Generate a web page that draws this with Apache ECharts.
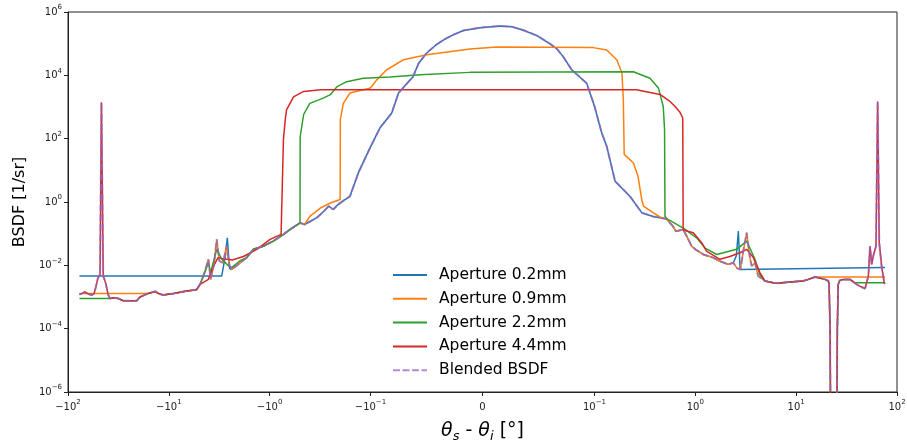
<!DOCTYPE html>
<html><head><meta charset="utf-8">
<script src="https://cdn.jsdelivr.net/npm/echarts@6/dist/echarts.min.js"></script>
<style>html,body{margin:0;padding:0;background:#fff}#c{width:907px;height:444px}</style>
</head><body><div id="c"></div>
<script>
// ---------- data (x in degrees, y = BSDF in 1/sr) ----------
const xTickValues = [-100, -10, -1, -0.1, 0, 0.1, 1, 10, 100];
const xTickBase = ['−10', '−10', '−10', '−10', '0', '10', '10', '10', '10'];
const xTickExp = ['2', '1', '0', '−1', '', '−1', '0', '1', '2'];
const yTickExponents = [-6, -4, -2, 0, 2, 4, 6];
const seriesNames = ['Aperture 0.2mm', 'Aperture 0.9mm', 'Aperture 2.2mm', 'Aperture 4.4mm', 'Blended BSDF'];

// measured far-left tail (shared)
const tailLeftX = [-77, -72, -68, -63, -58, -55, -52.7, -50.5, -48.1, -46.6, -44.7, -43.5, -42, -40, -38.4, -35, -31.7, -28.3, -24, -20.8, -19.3, -16, -13.7, -12.7, -11.4, -9.0, -6.65, -5.3];
const tailLeftY = [1.2e-3, 1.3e-3, 1.45e-3, 1.25e-3, 1.15e-3, 1.3e-3, 2.2e-3, 4e-3, 5e-3, 1.4e3, 4.5e-3, 3.6e-3, 2.5e-3, 1.2e-3, 9e-4, 9.5e-4, 9e-4, 7.6e-4, 7.6e-4, 7.6e-4, 1.0e-3, 1.3e-3, 1.5e-3, 1.3e-3, 1.15e-3, 1.3e-3, 1.55e-3, 1.7e-3];
// measured mid-left (oscillating) region
const midLeftX = [-4.9, -4.37, -4.05, -3.85, -3.56, -3.35, -3.15, -2.9, -2.68, -2.5, -2.38, -2.2, -1.97, -1.69, -1.45, -1.16, -0.92, -0.73, -0.63, -0.5, -0.45, -0.34, -0.29, -0.26, -0.234, -0.21, -0.185];
const midLeftY = [2.5e-3, 6.6e-3, 1.55e-2, 3.6e-3, 1.07e-2, 6.6e-2, 1.36e-2, 1.2e-2, 4e-2, 1e-2, 7.4e-3, 9e-3, 1.2e-2, 1.75e-2, 3.2e-2, 4e-2, 5.8e-2, 9.5e-2, 0.135, 0.22, 0.195, 0.32, 0.51, 0.74, 0.58, 0.83, 1.1];
// narrow-aperture core (0.2mm / blended)
const coreX = [-0.16, -0.132, -0.101, -0.0915, -0.081, -0.075, -0.062, -0.057, -0.05, -0.0415, -0.035, -0.0263, -0.017, -0.0022, 0.0156, 0.0263, 0.036, 0.0486, 0.06, 0.0665, 0.072, 0.0796, 0.093, 0.1, 0.118, 0.132, 0.16, 0.225, 0.294, 0.38];
const coreY = [1.5, 8.3, 51, 220, 650, 2750, 9100, 2.4e4, 5e4, 9.1e4, 1.3e5, 1.9e5, 2.6e5, 3.2e5, 3.6e5, 3.4e5, 2.7e5, 1.8e5, 1.0e5, 6.8e4, 3.9e4, 1.5e4, 5600, 1050, 150, 58, 4.5, 1.5, 0.46, 0.35];
// measured mid-right region
const midRightX = [0.52, 0.6, 0.64, 0.76, 0.92, 1.0, 1.2, 1.5, 1.73, 2.12, 2.38, 2.6, 2.8, 3.0, 3.23, 3.45, 3.62, 3.9, 4.2];
const midRightY = [0.29, 0.17, 0.12, 0.135, 0.04, 0.032, 0.022, 0.0175, 0.0137, 0.0107, 0.012, 8e-3, 7.4e-3, 0.03, 0.107, 0.02, 9.5e-3, 0.012, 4.6e-3];
// measured far-right tail (shared)
const tailRightX = [4.9, 5.9, 6.4, 8.7, 11.7, 13.2, 15.4, 19.3, 20.9, 21.2, 21.7, 22.1, 25.2, 25.6, 26.1, 27, 29.5, 34.2, 39.8, 44, 48.2, 52, 54, 56.1, 58.2, 61.9, 64.3, 66.7, 70.5, 74.8, 76];
const tailRightY = [3.2e-3, 2.8e-3, 2.7e-3, 3.0e-3, 3.2e-3, 3.6e-3, 4.3e-3, 3.6e-3, 3.2e-3, 2.5e-3, 1e-4, 1e-9, 1e-9, 1e-4, 2.5e-3, 3.3e-3, 3.6e-3, 3.6e-3, 2.5e-3, 2.1e-3, 1.85e-3, 4.6e-3, 0.04, 0.0107, 0.02, 0.04, 1.5e3, 0.05, 9e-3, 2.8e-3, 2.6e-3];

// aperture 0.2mm specific
const blueLeftX = [-77, -2.99, -2.75, -2.63, -2.5];
const blueLeftY = [4.6e-3, 4.6e-3, 2e-2, 7.4e-2, 8e-3];
const blueRightX = [2.55, 2.67, 2.78, 2.88, 76];
const blueRightY = [0.02, 0.12, 7.4e-3, 8.5e-3, 8.5e-3];
// aperture 0.9mm specific
const orangeLeftX = [-77, -15.5];
const orangeLeftY = [1.3e-3, 1.3e-3];
const orangeTopX = [-0.4, -0.31, -0.25, -0.2, -0.199, -0.186, -0.16, -0.127, -0.1, -0.0944, -0.0855, -0.0707, -0.0498, -0.0112, 0.0127, 0.0989, 0.132, 0.166, 0.187, 0.193, 0.197, 0.243, 0.27, 0.294, 0.306, 0.38, 0.45];
const orangeTopY = [0.35, 0.66, 0.93, 1.2, 400, 1300, 2750, 3300, 4000, 7200, 1.5e4, 3.1e4, 4.5e4, 6.8e4, 7.8e4, 7.5e4, 6.3e4, 3.1e4, 1.2e4, 1.7e3, 32, 17, 6.5, 1.2, 0.74, 0.46, 0.33];
const orangeRightX = [15.4, 76];
const orangeRightY = [4.3e-3, 4.3e-3];
// aperture 2.2mm specific
const greenLeftX = [-77, -38.4];
const greenLeftY = [8.9e-4, 8.9e-4];
const greenMidX = [-4.9, -4.5, -4.05, -3.85, -3.35, -3.0, -2.6, -2.38, -1.97];
const greenMidY = [2.5e-3, 5e-3, 1.2e-2, 6e-3, 3.2e-2, 1.6e-2, 1e-2, 8.5e-3, 1.4e-2];
const greenTopX = [-0.5, -0.498, -0.46, -0.4, -0.294, -0.25, -0.216, -0.172, -0.118, -0.0826, -0.0558, -0.0112, 0.243, 0.355, 0.43, 0.48, 0.495, 0.5];
const greenTopY = [0.22, 115, 580, 1300, 1900, 2450, 4300, 6300, 8100, 8800, 1.05e4, 1.24e4, 1.3e4, 8100, 4000, 1050, 200, 0.35];
const greenRightX = [0.52, 0.76, 1.03, 1.25, 1.63, 2.57, 3.23, 3.9, 4.37];
const greenRightY = [0.3, 0.15, 0.074, 0.035, 0.022, 0.032, 0.058, 0.0155, 5e-3];
const greenFarX = [38, 76];
const greenFarY = [2.8e-3, 2.8e-3];
// aperture 4.4mm specific
const redLeftX = [-4.9, -4.05, -3.6, -3.25, -2.88, -2.35, -1.82, -1.34, -0.99, -0.77, -0.74];
const redLeftY = [2.5e-3, 3.6e-3, 9.5e-3, 0.0175, 0.016, 0.0148, 0.019, 0.032, 0.066, 0.095, 0.107];
const redTopX = [-0.73, -0.7, -0.68, -0.58, -0.46, -0.31, 0.26, 0.446, 0.56, 0.62, 0.7, 0.75];
const redTopY = [93, 400, 810, 2100, 3100, 3500, 3500, 2500, 1500, 1100, 700, 450];
const redRightX = [0.757, 0.955, 1.16, 1.29, 1.75, 2.2, 2.77, 3.23, 3.76, 4.37];
const redRightY = [0.13, 0.107, 0.051, 0.028, 0.0155, 0.019, 0.025, 0.032, 0.0175, 5.9e-3];

// ---------- helpers ----------
const LT = 0.1, LS = 1 / (1 - 0.1);
function symlog(x) { const a = Math.abs(x); return a <= LT ? x / LT * LS : Math.sign(x) * (LS + Math.log10(a / LT)); }
const XMAX = symlog(100);
function seg(xs, ys, lo = -Infinity, hi = Infinity) {
  const out = [];
  for (let i = 0; i < xs.length; i++) if (xs[i] >= lo && xs[i] <= hi) out.push([xs[i], ys[i]]);
  return out;
}
function toPts(pairs) { return pairs.map(p => [symlog(p[0]), Math.log10(p[1])]); }

const blended = [].concat(seg(tailLeftX, tailLeftY), seg(midLeftX, midLeftY), seg(coreX, coreY), seg(midRightX, midRightY), seg(tailRightX, tailRightY));
const ap02 = [].concat(seg(blueLeftX, blueLeftY), seg(midLeftX, midLeftY, -2.4), seg(coreX, coreY), seg(midRightX, midRightY, -Infinity, 2.4), seg(blueRightX, blueRightY));
const ap09 = [].concat(seg(orangeLeftX, orangeLeftY), seg(tailLeftX, tailLeftY, -14), seg(midLeftX, midLeftY, -Infinity, -0.45), seg(orangeTopX, orangeTopY), seg(midRightX, midRightY, 0.5), seg(tailRightX, tailRightY, -Infinity, 15.4), seg(orangeRightX, orangeRightY));
const ap22 = [].concat(seg(greenLeftX, greenLeftY), seg(tailLeftX, tailLeftY, -36), seg(greenMidX, greenMidY), seg(midLeftX, midLeftY, -1.8, -0.55), seg(greenTopX, greenTopY), seg(greenRightX, greenRightY), seg(tailRightX, tailRightY, -Infinity, 34.5), seg(greenFarX, greenFarY));
const ap44 = [].concat(seg(tailLeftX, tailLeftY), seg(redLeftX, redLeftY), seg(redTopX, redTopY), seg(redRightX, redRightY), seg(tailRightX, tailRightY));

const colors = ['#1f77b4', '#ff7f0e', '#2ca02c', '#d62728', '#9467bd'];
const datasets = [ap02, ap09, ap22, ap44, blended];

const FONT = 'DejaVu Sans';
const chart = echarts.init(document.getElementById('c'), null, { renderer: 'canvas' });
const tickPos = xTickValues.map(symlog);
const solidIcon = 'path://M0,0h34v2h-34z';
const dashIcon = 'path://M0,0h7v2h-7zM9.5,0h7v2h-7zM19,0h7v2h-7zM28.5,0h5.5v2h-5.5z';

chart.setOption({
  animation: false,
  backgroundColor: '#fff',
  grid: { left: 68, right: 10, top: 12, bottom: 52, show: true, borderColor: '#222', borderWidth: 1, containLabel: false, outerBoundsMode: 'none' },
  legend: {
    orient: 'vertical', left: 388, top: 261, itemWidth: 34, itemHeight: 2, itemGap: 5.8,
    textStyle: { fontFamily: FONT, fontSize: 15.5, lineHeight: 18, color: '#000', padding: [0, 0, 0, 7] },
    data: seriesNames.map((n, i) => ({ name: n, icon: i === 4 ? dashIcon : solidIcon, itemStyle: { color: colors[i], opacity: i === 4 ? 0.75 : 1 } }))
  },
  xAxis: {
    type: 'value', min: -XMAX, max: XMAX,
    axisLine: { onZero: false, lineStyle: { color: '#222', width: 1 } },
    axisTick: { customValues: tickPos, length: 4, lineStyle: { color: '#222' } },
    splitLine: { show: false },
    axisLabel: {
      customValues: tickPos, margin: 7, fontFamily: FONT, fontSize: 10, color: '#222',
      formatter: v => { let k = 0, best = 1e9; tickPos.forEach((p, i) => { if (Math.abs(p - v) < best) { best = Math.abs(p - v); k = i; } }); return '{b|' + xTickBase[k] + '}' + (xTickExp[k] ? '{s|' + xTickExp[k] + '}' : ''); },
      rich: { b: { fontFamily: FONT, fontSize: 10, lineHeight: 16, color: '#222' }, s: { fontFamily: FONT, fontSize: 7, lineHeight: 8, verticalAlign: 'top', color: '#222' } }
    },
    name: '{t|θ}{u|s}{n| - }{t|θ}{u|i}{n| [°]}', nameLocation: 'middle', nameGap: 27,
    nameTextStyle: { rich: {
      t: { fontFamily: FONT, fontStyle: 'italic', fontSize: 19, lineHeight: 24, color: '#000' },
      u: { fontFamily: FONT, fontStyle: 'italic', fontSize: 13, lineHeight: 12, verticalAlign: 'bottom', color: '#000' },
      n: { fontFamily: FONT, fontSize: 19, lineHeight: 24, color: '#000' } } }
  },
  yAxis: {
    type: 'value', min: -6, max: 6, interval: 2,
    axisLine: { show: true, onZero: false, lineStyle: { color: '#222', width: 1 } },
    axisTick: { show: true, length: 4, lineStyle: { color: '#222' } },
    splitLine: { show: false },
    axisLabel: {
      margin: 6, fontFamily: FONT, fontSize: 10, color: '#222',
      formatter: v => '{b|10}{s|' + (v < 0 ? '−' + (-v) : v) + '}',
      rich: { b: { fontFamily: FONT, fontSize: 10, lineHeight: 16, color: '#222' }, s: { fontFamily: FONT, fontSize: 7, lineHeight: 8, verticalAlign: 'top', color: '#222' } }
    },
    name: 'BSDF [1/sr]', nameLocation: 'middle', nameGap: 38,
    nameTextStyle: { fontFamily: FONT, fontSize: 16, color: '#000' }
  },
  series: seriesNames.map((n, i) => ({
    name: n, type: 'line', data: toPts(datasets[i]), showSymbol: false, symbol: 'none', clip: true,
    color: colors[i],
    lineStyle: i === 4 ? { color: colors[i], width: 2, type: [7, 3], opacity: 0.75 } : { color: colors[i], width: 1.5 },
    z: 2 + i
  }))
});
</script></body></html>
